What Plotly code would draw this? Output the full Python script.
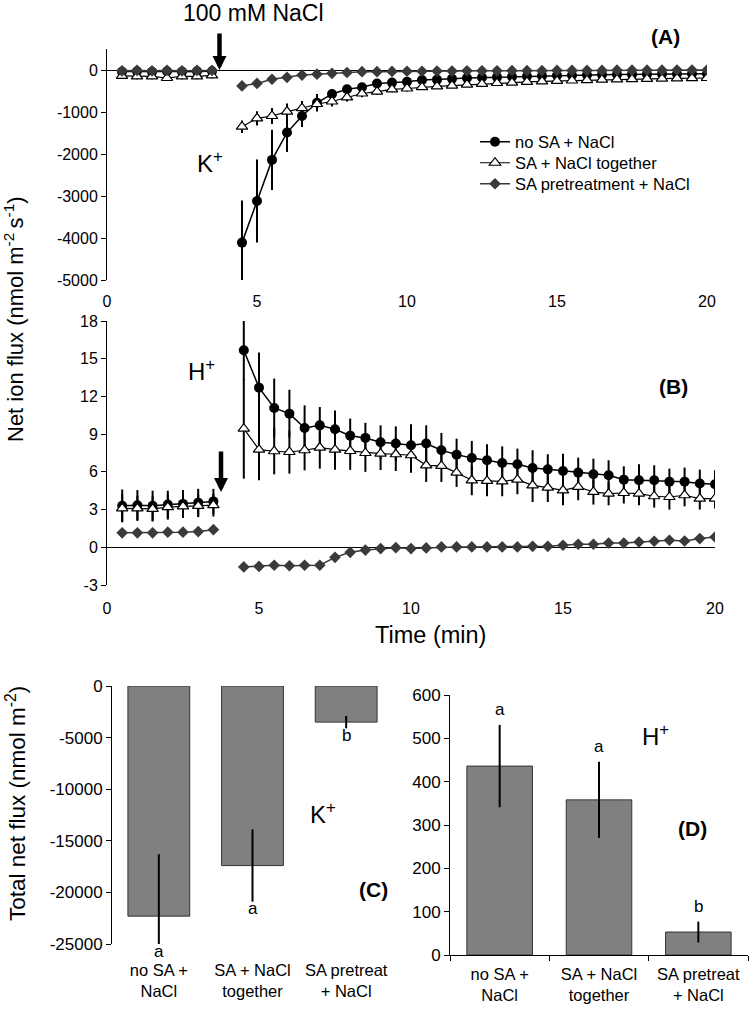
import plotly.graph_objects as go

W, H = 750, 1009
FONT = "Liberation Sans, Arial, sans-serif"

# ---------------- data ----------------
time_min = [0.5, 1.0, 1.5, 2.0, 2.5, 3.0, 3.5, 4.0,
            4.5, 5.0, 5.5, 6.0, 6.5, 7.0, 7.5, 8.0, 8.5, 9.0, 9.5, 10.0,
            10.5, 11.0, 11.5, 12.0, 12.5, 13.0, 13.5, 14.0, 14.5, 15.0,
            15.5, 16.0, 16.5, 17.0, 17.5, 18.0, 18.5, 19.0, 19.5, 20.0]

series_names = ["no SA + NaCl", "SA + NaCl together", "SA pretreatment + NaCl"]

# K+ flux (panel A); None = gap while NaCl is added
k_noSA = [-40, -30, -40, -30, -40, -30, -30, None,
          -4110, -3120, -2140, -1490, -1095, -780, -570, -460, -410, -320, -300, -280,
          -240, -230, -210, -190, -180, -170, -160, -150, -140, -130,
          -125, -120, -115, -110, -105, -100, -95, -95, -90, -90]
k_noSA_err = [30, 30, 30, 30, 30, 30, 30, None,
              1000, 990, 715, 460, 260, 210, 120, 90, 70, 60, 50, 50,
              40, 40, 40, 35, 30, 30, 30, 30, 30, 30,
              30, 30, 30, 30, 30, 30, 30, 30, 30, 30]
k_SAtog = [-140, -150, -150, -190, -150, -150, -130, None,
           -1350, -1150, -1095, -990, -910, -810, -750, -650, -560, -515, -460, -440,
           -410, -390, -370, -350, -330, -310, -300, -285, -270, -260,
           -250, -240, -230, -225, -215, -210, -205, -200, -195, -190]
k_SAtog_err = [70, 70, 70, 70, 70, 70, 70, None,
               150, 170, 190, 190, 170, 150, 120, 100, 90, 80, 70, 70,
               60, 60, 50, 50, 50, 50, 50, 50, 50, 50,
               50, 50, 50, 50, 50, 50, 50, 50, 50, 50]
k_SApre = [-20, -10, -20, -10, -20, -10, -10, None,
           -380, -320, -220, -175, -120, -100, -80, -60, -40, -40, -35, -30,
           -30, -25, -25, -20, -20, -20, -15, -15, -15, -10,
           -10, -10, -10, -5, -5, -5, -5, 0, 0, 0]

# H+ flux (panel B)
h_noSA = [3.3, 3.35, 3.3, 3.4, 3.45, 3.55, 3.65, None,
          15.67, 12.7, 11.08, 10.63, 9.49, 9.7, 9.39, 8.88, 8.7, 8.35, 8.25, 8.11,
          8.25, 7.72, 7.37, 7.1, 6.92, 6.71, 6.6, 6.31, 6.2, 6.07,
          5.94, 5.81, 5.73, 5.38, 5.33, 5.33, 5.22, 5.22, 5.07, 5.01]
h_noSA_err = [1.3, 1.2, 1.2, 1.1, 1.1, 1.1, 1.0, None,
              2.4, 2.8, 2.34, 1.9, 1.8, 1.46, 1.5, 1.36, 1.2, 1.35, 1.37, 1.67,
              1.45, 1.38, 1.27, 1.36, 1.27, 1.32, 1.25, 1.41, 1.2, 1.38,
              1.19, 1.24, 1.19, 1.06, 1.27, 1.19, 1.04, 1.12, 1.11, 1.12]
h_SAtog = [3.1, 3.1, 3.05, 3.2, 3.25, 3.3, 3.35, None,
           9.44, 7.77, 7.64, 7.58, 7.72, 7.93, 7.77, 7.66, 7.5, 7.45, 7.4, 7.32,
           6.52, 6.47, 5.94, 5.33, 5.28, 5.25, 5.38, 4.93, 4.75, 4.53,
           4.8, 4.4, 4.27, 4.32, 4.27, 4.06, 4.0, 4.14, 3.87, 3.87]
h_SAtog_err = [1.1, 1.0, 1.0, 1.0, 0.9, 0.9, 0.9, None,
               3.98, 2.44, 1.84, 1.72, 1.6, 1.67, 1.6, 1.5, 1.5, 1.3, 1.33, 1.4,
               1.32, 1.27, 1.14, 1.19, 1.22, 1.19, 1.16, 1.33, 1.15, 1.19,
               1.06, 1.0, 0.93, 0.84, 0.93, 0.9, 1.0, 0.88, 0.87, 0.79]
h_SApre = [1.15, 1.15, 1.15, 1.2, 1.2, 1.25, 1.4, None,
           -1.56, -1.52, -1.43, -1.47, -1.43, -1.43, -0.8, -0.4, -0.22, -0.1, -0.03, -0.1,
           -0.05, 0.03, 0.03, 0.03, 0.03, 0.03, 0.03, 0.08, 0.08, 0.16,
           0.24, 0.24, 0.34, 0.34, 0.42, 0.48, 0.56, 0.5, 0.69, 0.82]

# Totals (panels C, D)
bar_categories = ["no SA +<br>NaCl", "SA + NaCl<br>together", "SA pretreat<br>+ NaCl"]
k_total = [-22300, -17400, -3500]
k_total_err = [6000, 3500, 600]
k_letters = ["a", "a", "b"]
h_total = [436, 358, 53]
h_total_err = [95, 88, 24]
h_letters = ["a", "a", "b"]

time_ticks = [0, 5, 10, 15, 20]
k_ticks = [-5000, -4000, -3000, -2000, -1000, 0]
k_ticktext = ["-5000", "-4000", "-3000", "-2000", "-1000", "0"]
h_ticks = [-3, 0, 3, 6, 9, 12, 15, 18]
h_ticktext = ["-3", "0", "3", "6", "9", "12", "15", "18"]
kt_ticks = [-25000, -20000, -15000, -10000, -5000, 0]
kt_ticktext = ["-25000", "-20000", "-15000", "-10000", "-5000", "0"]
ht_ticks = [0, 100, 200, 300, 400, 500, 600]

# ---------------- helpers ----------------
def pxx(p):
    return p / W

def pxy(p):
    return 1 - p / H

AX = "#000000"
DIA = "#3a3a3a"
tick16 = dict(family=FONT, size=16, color="black")
tick17 = dict(family=FONT, size=17, color="black")
tick165 = dict(family=FONT, size=16.5, color="black")

fig = go.Figure()

styles = [
    dict(marker=dict(symbol="circle", size=10, color="black"),
         line=dict(color="black", width=1.5)),
    dict(marker=dict(symbol="triangle-up", size=10, color="white",
                     line=dict(color="black", width=1.2)),
         line=dict(color="black", width=1.2)),
    dict(marker=dict(symbol="diamond", size=9, color=DIA),
         line=dict(color=DIA, width=1.5)),
]

def err(arr):
    return dict(type="data", array=arr, visible=True, thickness=2, width=0, color="black")

panelA = [(k_noSA, k_noSA_err), (k_SAtog, k_SAtog_err), (k_SApre, None)]
panelB = [(h_noSA, h_noSA_err), (h_SAtog, h_SAtog_err), (h_SApre, None)]
legend_ids = ["legend", "legend2", "legend3"]

for i, (vals, e) in enumerate(panelA):
    fig.add_trace(go.Scatter(
        x=time_min, y=vals, mode="lines+markers", name=series_names[i],
        xaxis="x", yaxis="y", legend=legend_ids[i], showlegend=True,
        error_y=err(e) if e else None, connectgaps=False, **styles[i]))

for i, (vals, e) in enumerate(panelB):
    fig.add_trace(go.Scatter(
        x=time_min, y=vals, mode="lines+markers", name=series_names[i],
        xaxis="x2", yaxis="y2", showlegend=False,
        error_y=err(e) if e else None, connectgaps=False, **styles[i]))

bar_style = dict(color="#808080", line=dict(color="#333333", width=1))
fig.add_trace(go.Bar(x=bar_categories, y=k_total, xaxis="x3", yaxis="y3",
                     marker=bar_style, error_y=err(k_total_err), showlegend=False))
fig.add_trace(go.Bar(x=bar_categories, y=h_total, xaxis="x4", yaxis="y4",
                     marker=bar_style, error_y=err(h_total_err), showlegend=False))

# ---------------- axes ----------------
A_dom_y = [pxy(280), pxy(49)]
A_rng = [-5000, 500]
B_dom_y = [pxy(585), pxy(321)]
B_rng = [-3, 18]

def zero_pos(dom, rng):
    return dom[0] + (0 - rng[0]) / (rng[1] - rng[0]) * (dom[1] - dom[0])

common = dict(showgrid=False, linecolor=AX, linewidth=1, tickcolor=AX, automargin=False)

fig.update_layout(
    xaxis=dict(domain=[pxx(107), pxx(707)], range=[0, 20], anchor="y",
               tickvals=time_ticks, ticks="", showline=False, zeroline=False,
               tickfont=tick16, ticklabelstandoff=10, **common),
    yaxis=dict(domain=A_dom_y, range=A_rng, anchor="x", tickvals=k_ticks,
               ticktext=k_ticktext,
               ticks="outside", ticklen=5, showline=True, zeroline=True,
               zerolinecolor=AX, zerolinewidth=1, tickfont=tick16, **common),
    xaxis5=dict(overlaying="x", anchor="free", position=zero_pos(A_dom_y, A_rng),
                side="bottom", range=[0, 20], tickvals=[5, 10, 15, 20],
                ticks="outside", ticklen=5, showticklabels=False, showline=False,
                zeroline=False, **common),
    xaxis2=dict(domain=[pxx(107), pxx(715)], range=[0, 20], anchor="y2",
                tickvals=time_ticks, ticks="", showline=False, zeroline=False,
                tickfont=tick16, ticklabelstandoff=12, **common),
    yaxis2=dict(domain=B_dom_y, range=B_rng, anchor="x2", tickvals=h_ticks,
                ticktext=h_ticktext,
                ticks="outside", ticklen=5, showline=True, zeroline=True,
                zerolinecolor=AX, zerolinewidth=1, tickfont=tick16, **common),
    xaxis6=dict(overlaying="x2", anchor="free", position=zero_pos(B_dom_y, B_rng),
                side="bottom", range=[0, 20], tickvals=[5, 10, 15, 20],
                ticks="outside", ticklen=5, showticklabels=False, showline=False,
                zeroline=False, **common),
    xaxis3=dict(domain=[pxx(112), pxx(393)], anchor="y3", type="category",
                range=[-0.5, 2.5], ticks="", showline=False, zeroline=False,
                tickfont=tick165, ticklabelstandoff=14, **common),
    yaxis3=dict(domain=[pxy(944), pxy(686)], range=[-25000, 0], anchor="x3",
                tickvals=kt_ticks, ticktext=kt_ticktext,
                ticks="outside", ticklen=5, showline=True,
                zeroline=False, tickfont=tick17, **common),
    xaxis7=dict(overlaying="x3", anchor="y3", side="top", range=[-0.5, 2.5],
                tickvals=[0.5, 1.5], ticks="inside", ticklen=5,
                showticklabels=False, showline=True, zeroline=False, **common),
    xaxis4=dict(domain=[pxx(450), pxx(748)], anchor="y4", type="category",
                range=[-0.5, 2.5], ticks="outside", tickson="boundaries", ticklen=5,
                showline=True, zeroline=False, tickfont=tick165,
                ticklabelstandoff=4, **common),
    yaxis4=dict(domain=[pxy(955), pxy(695)], range=[0, 600], anchor="x4",
                tickvals=ht_ticks, ticks="outside", ticklen=5, showline=True,
                zeroline=False, tickfont=tick17, **common),
)

# ---------------- annotations ----------------
ann = []

def text_px(x, y, text, size, bold=False, angle=0):
    t = f"<b>{text}</b>" if bold else text
    ann.append(dict(xref="paper", yref="paper", x=pxx(x), y=pxy(y), text=t,
                    showarrow=False, xanchor="center", yanchor="middle",
                    textangle=angle, font=dict(family=FONT, size=size, color="black")))

text_px(253, 13, "100 mM NaCl", 23)
text_px(210, 162, "K<sup>+</sup>", 24)
text_px(665, 37, "(A)", 21, bold=True)
text_px(202, 370, "H<sup>+</sup>", 24)
text_px(673, 387, "(B)", 21, bold=True)
text_px(430, 635, "Time (min)", 23.5)
text_px(14, 319, "Net ion flux (nmol m<sup>-2 </sup>s<sup>-1</sup>)", 22, angle=-90)
text_px(16, 804, "Total net flux (nmol m<sup>-2</sup>)", 22.5, angle=-90)
text_px(323, 813, "K<sup>+</sup>", 24)
text_px(373, 889, "(C)", 21, bold=True)
text_px(655, 735, "H<sup>+</sup>", 24)
text_px(692, 828, "(D)", 21, bold=True)

# NaCl arrows
for xr, yr, ay in [("x", "y", -38), ("x2", "y2", -42)]:
    tip = 0 if yr == "y" else 4.4
    ann.append(dict(xref=xr, yref=yr, x=3.75, y=tip, ax=0, ay=ay, text="",
                    showarrow=True, arrowhead=2, arrowsize=0.62, arrowwidth=4.5,
                    arrowcolor="black", standoff=0))

# significance letters
for cat, v, e, lt in zip(bar_categories, k_total, k_total_err, k_letters):
    ann.append(dict(xref="x3", yref="y3", x=cat, y=max(v - e, -25000), text=lt,
                    showarrow=False, yanchor="middle", yshift=-7,
                    font=dict(family=FONT, size=17, color="black")))
for cat, v, e, lt in zip(bar_categories, h_total, h_total_err, h_letters):
    ann.append(dict(xref="x4", yref="y4", x=cat, y=v + e, text=lt,
                    showarrow=False, yanchor="middle", yshift=15,
                    font=dict(family=FONT, size=17, color="black")))

legend_font = dict(family=FONT, size=16.5, color="black")
legend_rows = [142, 163, 184]
legend_cfg = {}
for lid, row in zip(legend_ids, legend_rows):
    legend_cfg[lid] = dict(x=pxx(475), y=pxy(row), xanchor="left", yanchor="middle",
                           bgcolor="rgba(0,0,0,0)", font=legend_font, itemwidth=30)

fig.update_layout(
    annotations=ann,
    width=W, height=H,
    margin=dict(l=0, r=0, t=0, b=0, autoexpand=False),
    paper_bgcolor="white", plot_bgcolor="white",
    font=dict(family=FONT, size=16, color="black"),
    bargap=0.34,
    **legend_cfg,
)

fig.write_html(
    "out.html",
    config={"displayModeBar": False},
    post_script=("document.documentElement.style.margin='0';"
                 "document.body.style.margin='0';"
                 "document.body.style.overflow='hidden';"
                 "document.documentElement.style.overflow='hidden';"),
)
